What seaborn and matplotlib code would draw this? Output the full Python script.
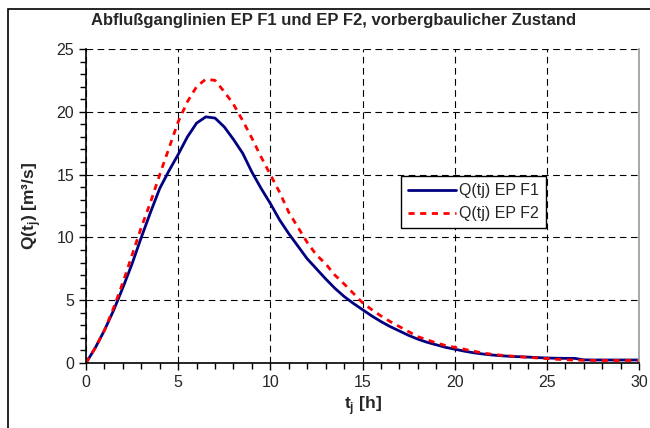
import matplotlib
matplotlib.use("Agg")
import matplotlib.pyplot as plt
import pandas as pd
import seaborn as sns
from matplotlib.patches import Rectangle
from matplotlib.ticker import MultipleLocator

# time axis [h]
t_h = [0, 0.5, 1, 1.5, 2, 2.5, 3, 3.5, 4, 4.5, 5, 5.5, 6, 6.5, 7, 7.5, 8, 8.5, 9, 9.5,
       10, 10.5, 11, 11.5, 12, 12.5, 13, 13.5, 14, 14.5, 15, 15.5, 16, 16.5, 17, 17.5,
       18, 18.5, 19, 19.5, 20, 20.5, 21, 21.5, 22, 22.5, 23, 23.5, 24, 24.5, 25, 25.5,
       26, 26.5, 27, 27.5, 28, 28.5, 29, 29.5, 30]

# Q(tj) EP F1 [m3/s]
q_f1 = [0, 1.2, 2.6, 4.2, 6.0, 7.9, 10.0, 12.0, 13.9, 15.3, 16.6, 18.0, 19.1, 19.6, 19.5,
        18.8, 17.8, 16.7, 15.2, 13.9, 12.7, 11.4, 10.3, 9.3, 8.3, 7.5, 6.7, 5.95, 5.3, 4.75,
        4.25, 3.75, 3.3, 2.9, 2.55, 2.2, 1.9, 1.65, 1.45, 1.25, 1.1, 0.95, 0.82, 0.72, 0.64,
        0.58, 0.53, 0.5, 0.47, 0.43, 0.4, 0.38, 0.37, 0.37, 0.25, 0.24, 0.24, 0.24, 0.24,
        0.24, 0.24]

# Q(tj) EP F2 [m3/s]
q_f2 = [0, 1.2, 2.6, 4.4, 6.4, 8.6, 10.8, 12.8, 15.0, 17.1, 19.2, 20.8, 22.0, 22.6, 22.5,
        21.6, 20.6, 19.3, 17.9, 16.4, 15.0, 13.6, 12.0, 10.8, 9.6, 8.6, 7.9, 7.0, 6.3, 5.55,
        4.8, 4.25, 3.75, 3.3, 2.9, 2.5, 2.1, 1.85, 1.6, 1.4, 1.25, 1.1, 0.95, 0.8, 0.7,
        0.62, 0.56, 0.5, 0.45, 0.4, 0.35, 0.3, 0.26, 0.23, 0.22, 0.21, 0.2, 0.2, 0.2, 0.2,
        0.2]

series_names = ["Q(tj) EP F1", "Q(tj) EP F2"]


def main() -> None:
    sns.set_style("white")
    plt.rcParams["font.family"] = ["Liberation Sans", "DejaVu Sans"]
    plt.rcParams["mathtext.fontset"] = "custom"
    plt.rcParams["mathtext.bf"] = "Liberation Sans:bold"
    plt.rcParams["mathtext.rm"] = "Liberation Sans"

    df = pd.DataFrame({"t": t_h, series_names[0]: q_f1, series_names[1]: q_f2})
    long = df.melt(id_vars="t", var_name="series", value_name="Q")

    fig = plt.figure(figsize=(6.5, 4.28), dpi=100)
    ax = fig.add_axes([86 / 650, 1 - 363 / 428, (639 - 86) / 650, (363 - 49) / 428])

    sns.lineplot(data=long, x="t", y="Q", hue="series", style="series",
                 palette=["#000080", "#ff0000"], dashes=[(None, None), (2.2, 2.0)],
                 linewidth=2.0, ax=ax, legend=True)

    ax.set_xlim(0, 30)
    ax.set_ylim(0, 25)
    ax.xaxis.set_major_locator(MultipleLocator(5))
    ax.xaxis.set_minor_locator(MultipleLocator(1))
    ax.yaxis.set_major_locator(MultipleLocator(5))
    ax.yaxis.set_minor_locator(MultipleLocator(1))
    ax.tick_params(axis="both", which="both", direction="out", length=5, width=1,
                   color="black", labelsize=11.5, bottom=True, left=True)
    ax.tick_params(axis="both", which="minor", length=4)
    ax.grid(True, which="major", color="black", linestyle=(0, (6, 4)), linewidth=0.8)

    for side in ["left", "bottom"]:
        ax.spines[side].set_color("black")
        ax.spines[side].set_linewidth(1.2)
    ax.spines["right"].set_color("#999999")
    ax.spines["right"].set_linewidth(1.2)
    ax.spines["top"].set_visible(False)

    ax.set_xlabel("t$_\\mathbf{j}$ [h]", fontsize=12.5, fontweight="bold", labelpad=3)
    ax.set_ylabel("Q(t$_\\mathbf{j}$) [m³/s]", fontsize=12.5, fontweight="bold", labelpad=10)
    fig.text(0.513, 1 - 20 / 428, "Abflußganglinien EP F1 und EP F2, vorbergbaulicher Zustand",
             ha="center", va="center", fontsize=12, fontweight="bold")

    leg = ax.legend(loc="upper left", bbox_to_anchor=(401 / 650, 1 - 176 / 428),
                    bbox_transform=fig.transFigure, fontsize=11.5, frameon=True,
                    fancybox=False, framealpha=1.0, handlelength=3.0, handletextpad=0.2,
                    borderpad=0.45, labelspacing=0.5, borderaxespad=0)
    leg.get_frame().set_edgecolor("black")
    leg.get_frame().set_linewidth(1.0)

    # outer chart-area border
    fig.patches.append(Rectangle((8 / 650, -0.1), 1.0, 1 - 9 / 428 + 0.1,
                                 transform=fig.transFigure, fill=False,
                                 edgecolor="black", linewidth=1.2))

    fig.savefig("out.png", dpi=100)
    plt.close(fig)


if __name__ == "__main__":
    main()
